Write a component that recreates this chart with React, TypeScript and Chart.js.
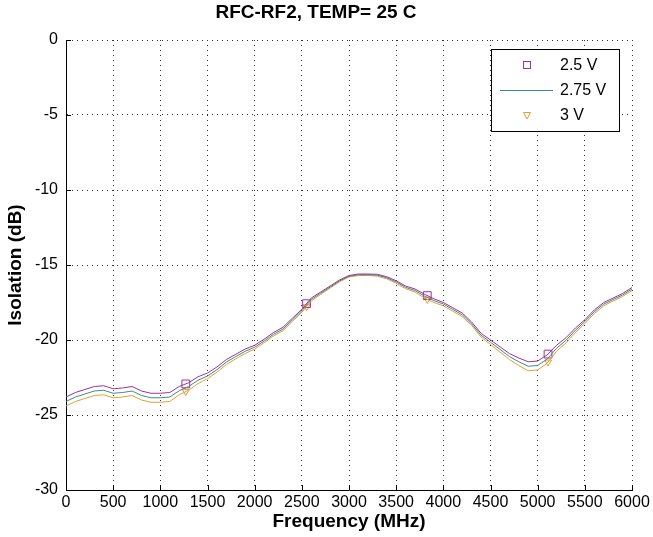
import React, { useEffect, useRef } from 'react';
import { Chart, registerables } from 'chart.js';

Chart.register(...registerables);

// ---- data ----
const frequencies = [
  0, 100, 200, 300, 400, 500, 600, 700, 800, 900,
  1000, 1100, 1200, 1300, 1400, 1500, 1600, 1700, 1800, 1900,
  2000, 2100, 2200, 2300, 2400, 2500, 2600, 2700, 2800, 2900,
  3000, 3100, 3200, 3300, 3400, 3500, 3600, 3700, 3800, 3900,
  4000, 4100, 4200, 4300, 4400, 4500, 4600, 4700, 4800, 4900,
  5000, 5100, 5200, 5300, 5400, 5500, 5600, 5700, 5800, 5900,
  6000,
];

const isolation2p5V = [
  -23.8, -23.5, -23.3, -23.1, -23.05, -23.25, -23.2, -23.1, -23.4, -23.55,
  -23.55, -23.5, -23.1, -22.85, -22.45, -22.2, -21.8, -21.3, -20.95, -20.6,
  -20.35, -19.95, -19.5, -19.15, -18.55, -17.95, -17.2, -16.8, -16.4, -16.0,
  -15.7, -15.6, -15.6, -15.62, -15.78, -16.05, -16.4, -16.6, -16.95, -17.25,
  -17.5, -17.85, -18.2, -18.8, -19.55, -20.0, -20.45, -20.9, -21.2, -21.45,
  -21.4, -21.0, -20.35, -19.85, -19.2, -18.65, -18.0, -17.5, -17.2, -16.9,
  -16.5,
];

const isolation2p75V = [
  -24.1, -23.8, -23.6, -23.4, -23.35, -23.55, -23.5, -23.4, -23.7, -23.85,
  -23.85, -23.8, -23.38, -23.1, -22.68, -22.4, -21.98, -21.47, -21.1, -20.75,
  -20.48, -20.07, -19.62, -19.27, -18.66, -18.05, -17.3, -16.88, -16.47, -16.06,
  -15.75, -15.65, -15.65, -15.68, -15.85, -16.13, -16.49, -16.7, -17.07, -17.37,
  -17.6, -17.96, -18.32, -18.92, -19.68, -20.15, -20.62, -21.1, -21.45, -21.75,
  -21.7, -21.28, -20.55, -20.02, -19.35, -18.77, -18.12, -17.61, -17.3, -17.0,
  -16.6,
];

const isolation3V = [
  -24.4, -24.1, -23.9, -23.7, -23.65, -23.85, -23.8, -23.7, -24.0, -24.15,
  -24.15, -24.1, -23.65, -23.35, -22.9, -22.58, -22.15, -21.63, -21.25, -20.9,
  -20.6, -20.18, -19.73, -19.38, -18.76, -18.15, -17.4, -16.96, -16.54, -16.12,
  -15.8, -15.7, -15.7, -15.74, -15.92, -16.22, -16.58, -16.8, -17.2, -17.5,
  -17.72, -18.08, -18.44, -19.03, -19.8, -20.3, -20.8, -21.3, -21.7, -22.05,
  -22.0, -21.55, -20.75, -20.2, -19.5, -18.9, -18.25, -17.72, -17.4, -17.1,
  -16.7,
];

const markerFrequencies = [1270, 2550, 3830, 5110];
const marker2p5V = [-22.93, -17.58, -17.04, -20.94];
const marker3V = [-23.44, -17.78, -17.29, -21.47];

const xTickValues = [0, 500, 1000, 1500, 2000, 2500, 3000, 3500, 4000, 4500, 5000, 5500, 6000];
const yTickValues = [-30, -25, -20, -15, -10, -5, 0];

const seriesLabels = ['2.5 V', '2.75 V', '3 V'];
const chartTitle = 'RFC-RF2, TEMP= 25 C';
const xTitle = 'Frequency (MHz)';
const yTitle = 'Isolation (dB)';

// ---- styles ----
const PURPLE = '#a0309a';
const TEAL = '#3a8c8c';
const ORANGE = '#e0a030';
const FONT = '"Liberation Sans", Arial, Helvetica, sans-serif';

const toPoints = (xs: number[], ys: number[]) => xs.map((x, i) => ({ x, y: ys[i] }));

const insideTicksPlugin = {
  id: 'insideTicks',
  afterDraw(chart: any) {
    const { ctx, chartArea } = chart;
    const xs = chart.scales.x;
    const ys = chart.scales.y;
    ctx.save();
    ctx.strokeStyle = '#000';
    ctx.lineWidth = 1;
    ctx.beginPath();
    xs.ticks.forEach((t: any) => {
      const px = Math.round(xs.getPixelForValue(t.value)) + 0.5;
      ctx.moveTo(px, chartArea.bottom);
      ctx.lineTo(px, chartArea.bottom - 5);
    });
    ys.ticks.forEach((t: any) => {
      const py = Math.round(ys.getPixelForValue(t.value)) + 0.5;
      ctx.moveTo(chartArea.left, py);
      ctx.lineTo(chartArea.left + 5, py);
    });
    ctx.stroke();
    ctx.restore();
  },
};

const boxLegendPlugin = {
  id: 'boxLegend',
  afterDraw(chart: any) {
    const { ctx, chartArea } = chart;
    const w = 128;
    const h = 82;
    const x = Math.round(chartArea.right - 13 - w);
    const y = Math.round(chartArea.top + 9);
    ctx.save();
    ctx.fillStyle = '#fff';
    ctx.fillRect(x, y, w, h);
    ctx.strokeStyle = '#000';
    ctx.lineWidth = 1;
    ctx.strokeRect(x + 0.5, y + 0.5, w, h);

    const symX = x + 36;
    ctx.font = `16px ${FONT}`;
    ctx.textBaseline = 'middle';
    ctx.textAlign = 'left';
    seriesLabels.forEach((label, i) => {
      const cy = Math.round(y + 16 + i * 25) + 0.5;
      if (i === 0) {
        ctx.strokeStyle = PURPLE;
        ctx.lineWidth = 1;
        ctx.strokeRect(Math.round(symX - 4) + 0.5, cy - 4, 7, 7);
      } else if (i === 1) {
        ctx.strokeStyle = TEAL;
        ctx.lineWidth = 1;
        ctx.beginPath();
        ctx.moveTo(x + 9, cy);
        ctx.lineTo(x + 62, cy);
        ctx.stroke();
      } else {
        ctx.strokeStyle = ORANGE;
        ctx.lineWidth = 1;
        ctx.beginPath();
        ctx.moveTo(symX - 3.5, cy - 3);
        ctx.lineTo(symX + 3.5, cy - 3);
        ctx.lineTo(symX, cy + 3.5);
        ctx.closePath();
        ctx.stroke();
      }
      ctx.fillStyle = '#000';
      ctx.fillText(label, x + 69, cy);
    });
    ctx.restore();
  },
};

export default function App() {
  const canvasRef = useRef<HTMLCanvasElement | null>(null);

  useEffect(() => {
    if (!canvasRef.current) return;
    Chart.defaults.font.family = FONT;
    Chart.defaults.color = '#000';

    const chart = new Chart(canvasRef.current, {
      type: 'line',
      data: {
        datasets: [
          {
            label: seriesLabels[0],
            data: toPoints(frequencies, isolation2p5V),
            borderColor: PURPLE,
            borderWidth: 1,
            pointRadius: 0,
            tension: 0,
          },
          {
            label: seriesLabels[1],
            data: toPoints(frequencies, isolation2p75V),
            borderColor: TEAL,
            borderWidth: 1,
            pointRadius: 0,
            tension: 0,
          },
          {
            label: seriesLabels[2],
            data: toPoints(frequencies, isolation3V),
            borderColor: ORANGE,
            borderWidth: 1,
            pointRadius: 0,
            tension: 0,
          },
          {
            label: seriesLabels[0] + ' markers',
            data: toPoints(markerFrequencies, marker2p5V),
            showLine: false,
            pointStyle: 'rect',
            pointRadius: 5.5,
            pointBorderWidth: 1,
            pointBorderColor: PURPLE,
            pointBackgroundColor: 'rgba(0,0,0,0)',
            borderColor: PURPLE,
          },
          {
            label: seriesLabels[2] + ' markers',
            data: toPoints(markerFrequencies, marker3V),
            showLine: false,
            pointStyle: 'triangle',
            pointRotation: 180,
            pointRadius: 4,
            pointBorderWidth: 1,
            pointBorderColor: ORANGE,
            pointBackgroundColor: 'rgba(0,0,0,0)',
            borderColor: ORANGE,
          },
        ],
      },
      options: {
        responsive: false,
        animation: false,
        parsing: false as any,
        layout: { padding: { left: 0, right: 21, top: 0, bottom: 0 } },
        plugins: {
          legend: { display: false },
          tooltip: { enabled: false },
          title: {
            display: true,
            text: chartTitle,
            color: '#000',
            font: { size: 19, weight: 'bold', family: FONT },
            padding: { top: 1, bottom: 16.2 },
          },
        },
        scales: {
          x: {
            type: 'linear',
            min: 0,
            max: 6000,
            afterBuildTicks: (s: any) => {
              s.ticks = xTickValues.map((v) => ({ value: v }));
            },
            afterFit: (s: any) => {
              s.height = 47;
            },
            ticks: {
              color: '#000',
              font: { size: 16, family: FONT },
              padding: 3,
              maxRotation: 0,
              autoSkip: false,
              callback: (v: any) => String(v),
            },
            grid: { color: '#333', lineWidth: 1, drawTicks: false },
            border: { display: true, color: '#000', width: 1, dash: [1, 4] },
            title: {
              display: true,
              text: xTitle,
              color: '#000',
              font: { size: 19, weight: 'bold', family: FONT },
              padding: { top: 0, bottom: 3.6 },
            },
          },
          y: {
            type: 'linear',
            min: -30,
            max: 0,
            afterBuildTicks: (s: any) => {
              s.ticks = yTickValues.map((v) => ({ value: v }));
            },
            afterFit: (s: any) => {
              s.width = 66;
            },
            ticks: {
              color: '#000',
              font: { size: 16, family: FONT },
              padding: 8,
              callback: (v: any) => String(v),
            },
            grid: { color: '#333', lineWidth: 1, drawTicks: false },
            border: { display: true, color: '#000', width: 1, dash: [1, 4] },
            title: {
              display: true,
              text: yTitle,
              color: '#000',
              font: { size: 19, weight: 'bold', family: FONT },
              padding: { top: 4.6, bottom: 0 },
            },
          },
        },
      },
      plugins: [insideTicksPlugin, boxLegendPlugin],
    });

    return () => chart.destroy();
  }, []);

  return (
    <div style={{ position: 'absolute', left: 0, top: 0, width: 653, height: 537, background: '#fff' }}>
      <canvas ref={canvasRef} width={653} height={537} style={{ display: 'block' }} />
    </div>
  );
}
